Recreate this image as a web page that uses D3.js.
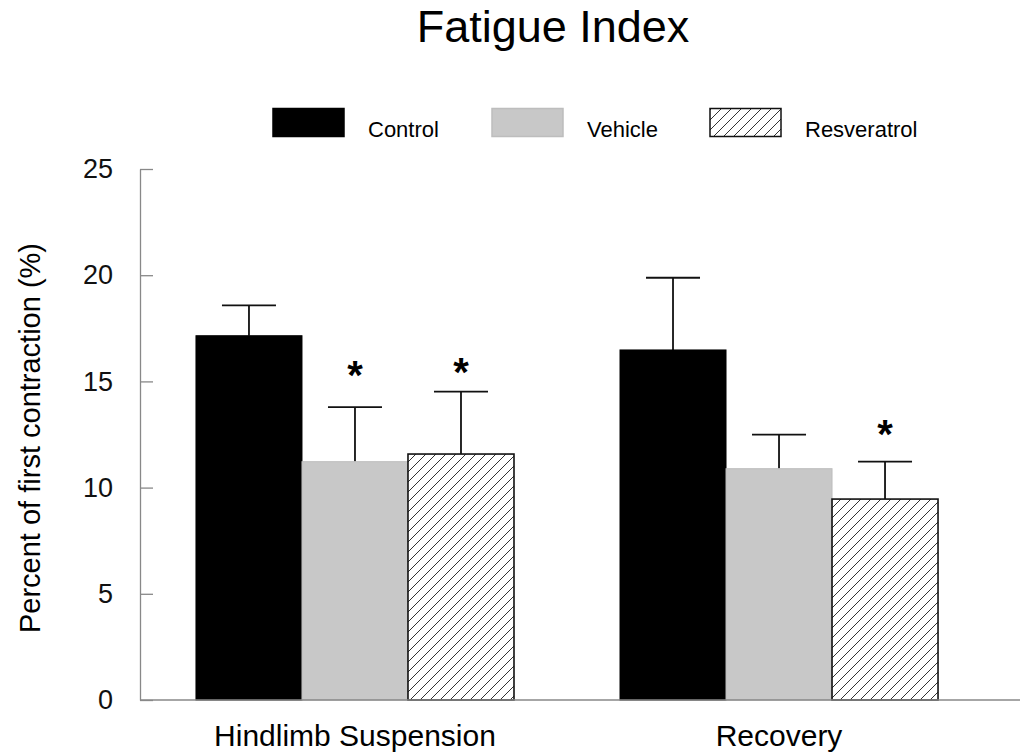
<!DOCTYPE html>
<html><head><meta charset="utf-8">
<script src="https://cdn.jsdelivr.net/npm/d3@7"></script>
<style>body{margin:0;background:#fff}svg{display:block}text{font-family:"Liberation Sans",Arial,sans-serif}</style>
</head><body><svg id="c" width="1023" height="755"></svg>
<script>
const groups = ["Hindlimb Suspension", "Recovery"];
const series = ["Control", "Vehicle", "Resveratrol"];
const means = [[17.15, 11.22, 11.58], [16.48, 10.89, 9.46]];
const errs  = [[1.43, 2.57, 2.94], [3.40, 1.60, 1.76]];
// significance markers: level (in data units) of the asterisk centre, null = none
const starLevels = [[null, 15.7, 15.8], [null, null, 12.9]];
const yTicks = [0, 5, 10, 15, 20, 25];

const svg = d3.select("#c");
const defs = svg.append("defs");
const pat = defs.append("pattern").attr("id","hatch").attr("patternUnits","userSpaceOnUse")
  .attr("width",10).attr("height",10);
pat.append("rect").attr("width",10).attr("height",10).attr("fill","#fff");
pat.append("path").attr("d","M0,10 L10,0 M-2.5,2.5 L2.5,-2.5 M7.5,12.5 L12.5,7.5")
  .attr("stroke","#333").attr("stroke-width",1);

const fills = {Control:"#000", Vehicle:"#c8c8c8", Resveratrol:"url(#hatch)"};
const strokes = {Control:"#000", Vehicle:"#bdbdbd", Resveratrol:"#111"};

const y = d3.scaleLinear().domain([0,25]).range([700,169]);
const x0 = d3.scaleBand().domain(groups).range([140,994]).paddingInner(0.25).paddingOuter(0.132);
const x1 = d3.scaleBand().domain(series).range([0,x0.bandwidth()]);

svg.append("text").attr("x",553).attr("y",42).attr("text-anchor","middle")
  .attr("font-size",45).text("Fatigue Index");

// legend
const legX = [273, 492, 710];
series.forEach((s,i)=>{
  svg.append("rect").attr("x",legX[i]).attr("y",108.5).attr("width",71).attr("height",28)
    .attr("fill",fills[s]).attr("stroke",strokes[s]).attr("stroke-width",1.5);
  svg.append("text").attr("x",legX[i]+95).attr("y",137).attr("font-size",22).text(s);
});

// y axis
const yAxis = d3.axisLeft(y).tickValues(yTicks).tickSize(-13).tickSizeOuter(0).tickPadding(27);
const ga = svg.append("g").attr("transform","translate(140,0)").call(yAxis);
ga.select(".domain").attr("stroke","#888").attr("stroke-width",1.3);
ga.selectAll(".tick line").attr("stroke","#888").attr("stroke-width",1.3);
ga.selectAll(".tick text").attr("font-size",27).attr("fill","#111").attr("font-family","Liberation Sans, Arial, sans-serif");

svg.append("text").attr("transform","translate(40,438) rotate(-90)").attr("text-anchor","middle")
  .attr("font-size",29).text("Percent of first contraction (%)");

// bars
groups.forEach((g,gi)=>{
  series.forEach((s,si)=>{
    const bx = x0(g)+x1(s), bw = x1.bandwidth();
    const v = means[gi][si], e = errs[gi][si];
    const cx = bx + bw/2;
    svg.append("line").attr("x1",cx).attr("x2",cx).attr("y1",y(v)).attr("y2",y(v+e)).attr("stroke","#111").attr("stroke-width",1.8);
    svg.append("line").attr("x1",cx-27).attr("x2",cx+27).attr("y1",y(v+e)).attr("y2",y(v+e)).attr("stroke","#111").attr("stroke-width",1.8);
    svg.append("rect").attr("x",bx).attr("y",y(v)).attr("width",bw).attr("height",y(0)-y(v))
      .attr("fill",fills[s]).attr("stroke",strokes[s]).attr("stroke-width",s==="Resveratrol"?1.6:1);
    const sl = starLevels[gi][si];
    if (sl !== null) {
      svg.append("text").attr("x",cx).attr("y",y(sl)+22).attr("text-anchor","middle")
        .attr("font-size",40).attr("font-weight","bold").text("*");
    }
  });
  svg.append("text").attr("x",x0(g)+x0.bandwidth()/2).attr("y",746).attr("text-anchor","middle")
    .attr("font-size",30).text(g);
});

// x axis line
svg.append("line").attr("x1",140).attr("x2",1020).attr("y1",y(0)).attr("y2",y(0)).attr("stroke","#888").attr("stroke-width",1.3);
</script></body></html>
